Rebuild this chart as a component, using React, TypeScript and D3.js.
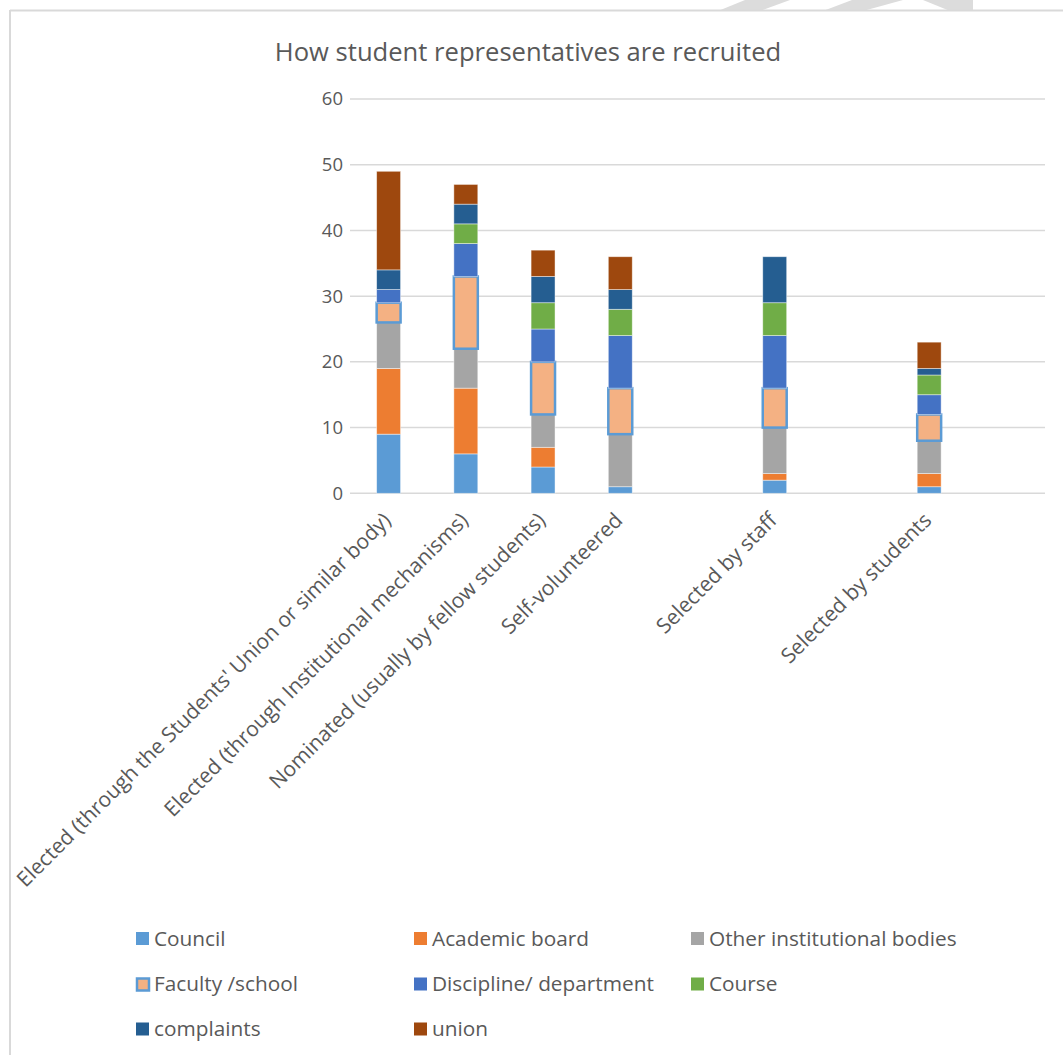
import React from "react";
import * as d3 from "d3";

const categories = [
  "Elected (through the Students' Union or similar body)",
  "Elected (through Institutional mechanisms)",
  "Nominated (usually by fellow students)",
  "Self-volunteered",
  "",
  "Selected by staff",
  "",
  "Selected by students",
  "",
];

const seriesNames = [
  "Council",
  "Academic board",
  "Other institutional bodies",
  "Faculty /school",
  "Discipline/ department",
  "Course",
  "complaints",
  "union",
];

const council = [9, 6, 4, 1, 0, 2, 0, 1, 0];
const academicBoard = [10, 10, 3, 0, 0, 1, 0, 2, 0];
const otherBodies = [7, 6, 5, 8, 0, 7, 0, 5, 0];
const facultySchool = [3, 11, 8, 7, 0, 6, 0, 4, 0];
const discipline = [2, 5, 5, 8, 0, 8, 0, 3, 0];
const course = [0, 3, 4, 4, 0, 5, 0, 3, 0];
const complaints = [3, 3, 4, 3, 0, 7, 0, 1, 0];
const union = [15, 3, 4, 5, 0, 0, 0, 4, 0];

const seriesValues = [council, academicBoard, otherBodies, facultySchool, discipline, course, complaints, union];
const colors = ["#5B9BD5", "#ED7D31", "#A5A5A5", "#F4B183", "#4472C4", "#70AD47", "#255E91", "#9E480E"];
const yTicks = [0, 10, 20, 30, 40, 50, 60];

const W = 1063;
const H = 1055;
const FONT = "'Open Sans', 'DejaVu Sans', sans-serif";
const TEXT = "#595959";

export default function App() {
  const rows = categories.map((c, i) => {
    const r: any = { idx: i };
    seriesNames.forEach((s, j) => (r[s] = seriesValues[j][i]));
    return r;
  });
  const stacked = d3.stack<any>().keys(seriesNames)(rows);

  const x = d3
    .scaleBand<number>()
    .domain(d3.range(categories.length))
    .range([350, 1045])
    .paddingInner(0)
    .paddingOuter(0);
  const y = d3.scaleLinear().domain([0, 60]).range([493.3, 99]);
  const barW = x.bandwidth() * 0.31;

  const legendCols = [136, 414, 691];
  const legendRows = [938.5, 984, 1029];

  return (
    <svg
      width={W}
      height={H}
      style={{ position: "absolute", left: 0, top: 0, background: "#fff" }}
      fontFamily={FONT}
    >
      {/* faint watermark above the frame */}
      <g fill="#dcdcdc">
        <polygon points="718,11 760,11 790,0 745,0" />
        <polygon points="823,11 863,11 903,0 852,0" />
        <polygon points="923,0 973,0 973,11 950,11" />
      </g>
      {/* frame */}
      <line x1={10} y1={10.5} x2={W} y2={10.5} stroke="#d9d9d9" strokeWidth={2} />
      <line x1={10} y1={10} x2={10} y2={H} stroke="#d9d9d9" strokeWidth={2} />

      <text x={528} y={61} textAnchor="middle" fontSize={25.6} fill={TEXT}>
        How student representatives are recruited
      </text>

      {/* gridlines + y labels */}
      {yTicks.map((t) => (
        <g key={t}>
          <line x1={350} x2={1045} y1={y(t)} y2={y(t)} stroke="#d9d9d9" strokeWidth={1.5} />
          <text x={343} y={y(t)} dy="0.35em" textAnchor="end" fontSize={18.5} fill={TEXT}>
            {t}
          </text>
        </g>
      ))}

      {/* bars */}
      {stacked.map((layer, si) => (
        <g key={layer.key}>
          {layer.map((d, ci) => {
            const h = y(d[0]) - y(d[1]);
            if (h <= 0) return null;
            const cx = (x(ci) as number) + x.bandwidth() / 2;
            const isFac = si === 3;
            return (
              <rect
                key={ci}
                x={cx - barW / 2}
                y={y(d[1])}
                width={barW}
                height={h}
                fill={colors[si]}
                stroke={isFac ? "#5B9BD5" : "rgba(255,255,255,0.55)"}
                strokeWidth={isFac ? 2.5 : 0.8}
              />
            );
          })}
        </g>
      ))}

      {/* x labels */}
      {categories.map((c, i) => {
        if (!c) return null;
        const cx = (x(i) as number) + x.bandwidth() / 2;
        return (
          <text
            key={i}
            transform={`translate(${cx - 7},${511}) rotate(-45)`}
            textAnchor="end"
            dy="0.71em"
            fontSize={21}
            fill={TEXT}
          >
            {c}
          </text>
        );
      })}

      {/* legend */}
      {seriesNames.map((s, i) => {
        const lx = legendCols[i % 3];
        const ly = legendRows[Math.floor(i / 3)];
        const isFac = i === 3;
        return (
          <g key={s}>
            <rect
              x={lx + (isFac ? 1 : 0)}
              y={ly - 6.5 + (isFac ? 1 : 0)}
              width={isFac ? 12 : 13}
              height={isFac ? 12 : 13}
              fill={colors[i]}
              stroke={isFac ? "#5B9BD5" : "none"}
              strokeWidth={isFac ? 2.5 : 0}
            />
            <text x={lx + 18} y={ly} dy="0.35em" fontSize={20.8} fill={TEXT}>
              {s}
            </text>
          </g>
        );
      })}
    </svg>
  );
}
